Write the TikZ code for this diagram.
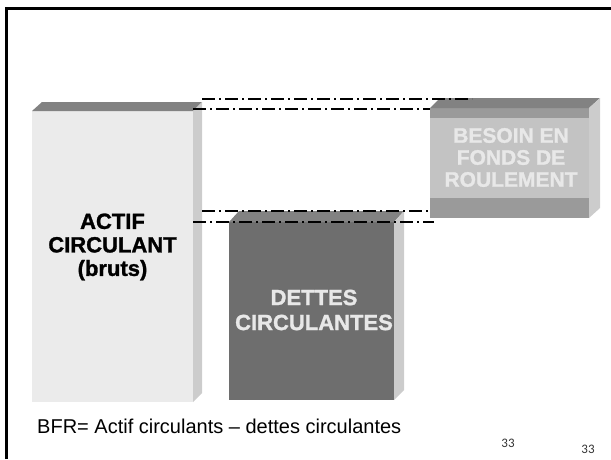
\documentclass[tikz,border=0pt]{standalone}
\usepackage{fontspec}
\setmainfont{Liberation Sans}
\newfontfamily\heavyfont{Liberation Sans}[BoldFeatures={FakeBold=1.3}]
\newfontfamily\pagefont{Carlito}
\definecolor{actfront}{HTML}{EBEBEB}
\definecolor{sideface}{HTML}{CCCCCC}
\definecolor{topface}{HTML}{828282}
\definecolor{detfront}{HTML}{6E6E6E}
\definecolor{besband}{HTML}{9A9A9A}
\definecolor{beslight}{HTML}{C3C3C3}
\definecolor{lighttext}{HTML}{E8E8E8}
\begin{document}
\begin{tikzpicture}[x=1pt,y=-1pt,
  boxlabel/.style={align=center, inner sep=0pt, font=\heavyfont\bfseries\fontsize{22}{#1}\selectfont},
  boxlabel/.default=24,
  ddline/.style={line width=1.6pt, dash pattern=on 13pt off 4pt on 2pt off 4pt},
  pagenum/.style={font=\pagefont\fontsize{13}{15}\selectfont, text=black!80, inner sep=0pt},
]
\useasboundingbox (0,0) rectangle (611,459);
% slide frame
\draw[line width=2.7pt] (6.5,459) -- (6.5,8.5) -- (611,8.5);

% ACTIF box
\fill[actfront] (32,111) rectangle (193,402);
\fill[topface] (32,111) -- (42,102) -- (202,102) -- (193,111) -- cycle;
\fill[sideface] (193,111) -- (202,102) -- (202,393) -- (193,402) -- cycle;
\node[boxlabel=23.5, text=black] (actif) at (112.5,247) {ACTIF\\CIRCULANT\\(bruts)};

% DETTES box
\fill[detfront] (229,222) rectangle (394,400);
\fill[topface] (229,222) -- (239,211) -- (404,211) -- (394,222) -- cycle;
\fill[sideface] (394,222) -- (404,211) -- (404,390) -- (394,400) -- cycle;
\node[boxlabel=25, text=lighttext] (dettes) at (314,310) {DETTES\\CIRCULANTES};

% BESOIN box
\fill[besband] (430,108) rectangle (589,218);
\fill[beslight] (430,118) rectangle (589,198);
\fill[topface] (430,108) -- (440,98) -- (600,98) -- (589,108) -- cycle;
\fill[sideface] (589,108) -- (600,98) -- (600,208) -- (589,218) -- cycle;
\node[boxlabel=22, text=lighttext, font=\heavyfont\bfseries\fontsize{21}{22}\selectfont] (besoin) at (511,157.5) {BESOIN EN\\FONDS DE\\ROULEMENT};

% dash-dot guide lines
\coordinate (ua) at (202,99);  \coordinate (ub) at (472,99);
\coordinate (va) at (193,109); \coordinate (vb) at (430,109);
\coordinate (la) at (202,211); \coordinate (lb) at (430,211);
\coordinate (ma) at (193,222); \coordinate (mb) at (434,222);
\draw[ddline] (ua) -- (ub);
\draw[ddline] (va) -- (vb);
\draw[ddline] (la) -- (lb);
\draw[ddline] (ma) -- (mb);

% formula
\node[anchor=base west, inner sep=0pt, font=\fontsize{20}{24}\selectfont] (bfr) at (37,433) {BFR= Actif circulants -- dettes circulantes};

% page numbers
\node[pagenum] (p1) at (508,443) {33};
\node[pagenum] (p2) at (588,449) {33};
\end{tikzpicture}
\end{document}
